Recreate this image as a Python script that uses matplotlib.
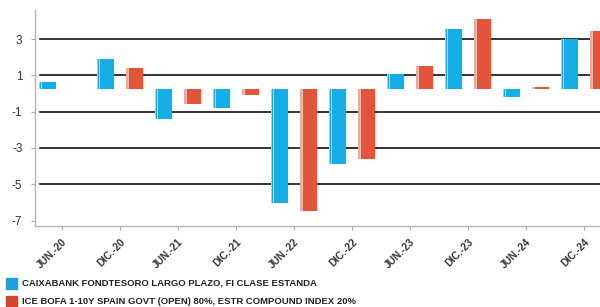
import numpy as np
import matplotlib
matplotlib.use('Agg')
import matplotlib.pyplot as plt
from matplotlib.patches import Rectangle

# datos (rentabilidad por semestre)
periods = ['JUN.-20', 'DIC.-20', 'JUN.-21', 'DIC.-21', 'JUN.-22',
           'DIC.-22', 'JUN.-23', 'DIC.-23', 'JUN.-24', 'DIC.-24']
fund = [0.63, 1.92, -1.39, -0.80, -6.01, -3.87, 1.05, 3.57, -0.19, 2.98]
bench = [0.27, 1.40, -0.56, -0.06, -6.48, -3.59, 1.51, 4.09, 0.36, 3.44]
base = 0.27  # linea base de las barras
yticks = [3, 1, -1, -3, -5, -7]
fund_name = 'CAIXABANK FONDTESORO LARGO PLAZO, FI CLASE ESTANDA'
bench_name = 'ICE BOFA 1-10Y SPAIN GOVT (OPEN) 80%, ESTR COMPOUND INDEX 20%'

blue = '#17aee6'
blue_l = '#8fd8f5'
red = '#e2553b'
red_l = '#f0a898'

plt.rcParams['font.family'] = ['Liberation Sans', 'DejaVu Sans']

fig = plt.figure(figsize=(6, 3.07), dpi=100)
ax = fig.add_axes([35/600, 1-226/307, 1-35/600, (226-10)/307])

x = np.arange(len(periods))
w = 0.29
off = 0.255

def draw(xs, vals, col, col_l):
    h = np.array(vals) - base
    ax.bar(xs, h, w, bottom=base, color=col, zorder=3, linewidth=0)
    ax.bar(xs - w/2 + 0.012, h, 0.025, bottom=base, color=col_l, zorder=4, linewidth=0)
    ax.bar(xs - w/2 + 0.04, h, 0.018, bottom=base, color='white', alpha=0.6, zorder=4, linewidth=0)

draw(x - off, fund, blue, blue_l)
draw(x + off, bench, red, red_l)

for v in yticks[:-1]:
    ax.axhline(v, xmin=0.008, color='#111111', lw=1.2, zorder=2)

ax.set_xlim(-0.466, 9.276)
ax.set_ylim(-7.3, 4.6)
ax.set_yticks(yticks)
ax.set_yticklabels([str(v) for v in yticks], fontsize=8.5, color='#333333')
ax.set_xticks(x)
ax.set_xticklabels(periods, rotation=45, ha='right', rotation_mode='anchor',
                   fontsize=7.3, fontweight='bold', color='#333333')
ax.tick_params(axis='y', length=3, width=0.8, color='#aaaaaa', pad=6)
ax.tick_params(axis='x', length=3, width=0.8, color='#aaaaaa', pad=5)
for s in ['top', 'right']:
    ax.spines[s].set_visible(False)
for s in ['left', 'bottom']:
    ax.spines[s].set_color('#b5b5b5')
    ax.spines[s].set_linewidth(1.0)

# leyenda
fig.patches.append(Rectangle((6/600, 1-289/307), 11/600, 11/307,
                             transform=fig.transFigure, color='#1e9fe0'))
fig.patches.append(Rectangle((6/600, 1-307/307 + 0.0), 11/600, 11/307,
                             transform=fig.transFigure, color='#d0452e'))
fig.text(22/600, 1-283/307, fund_name, fontsize=6.8, fontweight='bold',
         color='#222222', va='center')
fig.text(22/600, 1-301/307, bench_name, fontsize=6.8, fontweight='bold',
         color='#222222', va='center')

fig.savefig('out.png', dpi=100)
